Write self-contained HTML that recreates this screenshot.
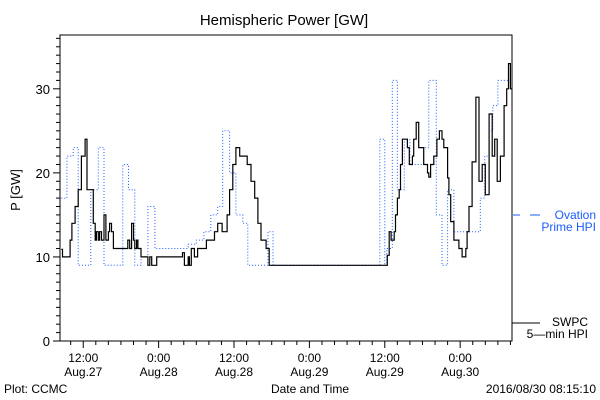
<!DOCTYPE html>
<html><head><meta charset="utf-8"><style>
body{margin:0;background:#fff;}
svg{display:block;font-family:"Liberation Sans",sans-serif;}
</style></head><body>
<svg id="chart" width="600" height="400" viewBox="0 0 600 400">
<rect width="600" height="400" fill="#fff"/>
<text x="284" y="25" font-size="15" text-anchor="middle">Hemispheric Power [GW]</text>
<text x="20" y="190" font-size="13" text-anchor="middle" transform="rotate(-90 20 190)">P [GW]</text>
<text x="310" y="393" font-size="12" text-anchor="middle">Date and Time</text>
<text x="4" y="393" font-size="12">Plot: CCMC</text>
<text x="596" y="393" font-size="12" text-anchor="end">2016/08/30 08:15:10</text>
<g id="axes"></g>
<g id="series"></g>
<g>
<line x1="513" y1="215" x2="520" y2="215" stroke="#1a5cff" stroke-width="1"/>
<line x1="530" y1="215" x2="540" y2="215" stroke="#1a5cff" stroke-width="1"/>
<text x="596" y="219" font-size="12" fill="#1a5cff" text-anchor="end">Ovation</text>
<text x="596" y="231" font-size="12" fill="#1a5cff" text-anchor="end">Prime HPI</text>
</g>
<g>
<line x1="512" y1="323" x2="540" y2="323" stroke="#000" stroke-width="1"/>
<text x="588" y="326" font-size="12" text-anchor="end">SWPC</text>
<text x="588" y="338" font-size="12" text-anchor="end">5—min HPI</text>
</g>
</svg>
<script>
const yTicks=[0,10,20,30];
const xTickHours=[12,24,36,48,60,72];
const xTickTimes=["12:00","0:00","12:00","0:00","12:00","0:00"];
const xTickDates=["Aug.27","Aug.28","Aug.28","Aug.29","Aug.29","Aug.30"];
const swpcHours=[8.5,8.7,9.5,9.9,10.2,10.7,11.2,11.7,12.3,12.6,13.3,13.6,13.9,14.1,14.4,14.6,14.9,15.3,15.6,16.0,16.2,16.5,16.8,18.9,19.1,19.4,19.7,20.0,20.2,20.5,20.7,21.2,22.1,22.3,22.6,22.9,23.7,27.6,27.8,28.1,28.7,28.9,29.2,29.7,30.2,31.6,32.9,33.4,34.1,34.9,35.3,35.8,36.3,36.9,38.1,38.7,39.3,39.8,40.3,41.1,41.6,60.4,60.7,61.0,61.5,61.7,62.0,62.3,62.5,62.8,63.6,63.9,64.4,64.6,65.0,65.4,66.2,66.8,67.0,67.3,67.8,68.3,68.7,69.1,69.4,70.0,70.2,70.5,71.0,71.8,72.3,72.9,73.1,73.4,73.9,74.5,75.0,75.5,76.0,76.6,77.1,77.5,77.9,78.4,79.0,79.4,79.7,80.0,80.25];
const swpcValues=[10.9,10,10,12,14,16,18,22,24,18,18,14,12,13,12,13,12,15,12,13,14,13,11,11,12,11,14,12,11,12,11,10,10,9,10,9,10,10,10.5,9,10,9,11,10,11,12,13,14,13,15,18,21,23,22,21,19,17,14,12,11,9,10.2,13,12,13,15,17,18,21,24,23,21,22,24,26,23,21,20,19.5,21,22,24,25,24,23,19.4,17.4,14.2,12,11,10,11,13,16,21.3,29,19,21,17.4,27,22,24,19,22,28,30,33,30,30];
const ovHours=[8.5,9.4,10.4,11.2,13.2,14.4,15.3,18.3,19.2,20.2,21.2,22.3,23.4,28.7,30.0,31.2,32.3,33.4,34.2,35.3,36.3,37.4,38.2,41.4,42.2,59.2,60.0,60.3,61.2,62.0,63.1,64.0,66.2,67.0,68.2,69.1,70.0,71.0,75.2,75.9,76.6,77.2,78.0,80.25];
const ovValues=[17,22,23,9,18,23,9,21,18,9,10,16,11,11.5,12,13,15,16,25,20,15,14,9,13,9,24,9,11,31,18,24,21,23,31,15,9,18,13,17,22,25,28,31,31];
const X0=60,X1=512,Y0=341,YT=35,H0=8.3,H1=80.25,VMAX=36.4;
const xs=h=>X0+(h-H0)*(X1-X0)/(H1-H0);
const ys=v=>Y0-v*(Y0-YT)/VMAX;
const NS="http://www.w3.org/2000/svg";
function mk(tag,attrs,parent){const e=document.createElementNS(NS,tag);for(const k in attrs)e.setAttribute(k,attrs[k]);parent.appendChild(e);return e;}
const ax=document.getElementById('axes');
const frame=mk('path',{d:`M${X0} ${YT}V${Y0}H${X1}V${YT}Z`,fill:'none',stroke:'#000','stroke-width':1},ax);


for(let v=0;v<=36;v++){const y=ys(v);const maj=v%10===0;
 const t=mk('line',{x1:X0,x2:X0-(maj?7:4),y1:y,y2:y,stroke:'#000'},ax);
 
 }
yTicks.forEach(v=>{const t=mk('text',{x:X0-10,y:ys(v)+5,'font-size':13,'text-anchor':'end'},ax);t.textContent=v;
 
 });
for(let h=10;h<=80;h+=2){const x=xs(h);const maj=h%12===0;
 const t=mk('line',{x1:x,x2:x,y1:Y0,y2:Y0+(maj?7:4),stroke:'#000'},ax);
 
 }
xTickHours.forEach((h,i)=>{const x=xs(h);
 const a=mk('text',{x:x,y:362,'font-size':12,'text-anchor':'middle'},ax);a.textContent=xTickTimes[i];
 
 
 const b=mk('text',{x:x,y:376,'font-size':12,'text-anchor':'middle'},ax);b.textContent=xTickDates[i];
 
 });
function stepPath(hs,vs){let d=`M${xs(hs[0]).toFixed(1)} ${ys(vs[0]).toFixed(1)}`;
 for(let i=1;i<hs.length;i++){d+=`H${xs(hs[i]).toFixed(1)}V${ys(vs[i]).toFixed(1)}`;}return d;}
const sg=document.getElementById('series');
const ov=mk('path',{d:stepPath(ovHours,ovValues),fill:'none',stroke:'#1a5cff','stroke-width':1,'stroke-dasharray':'1 2'},sg);


const sw=mk('path',{d:stepPath(swpcHours,swpcValues),fill:'none',stroke:'#000','stroke-width':1.2},sg);


</script>
</body></html>
